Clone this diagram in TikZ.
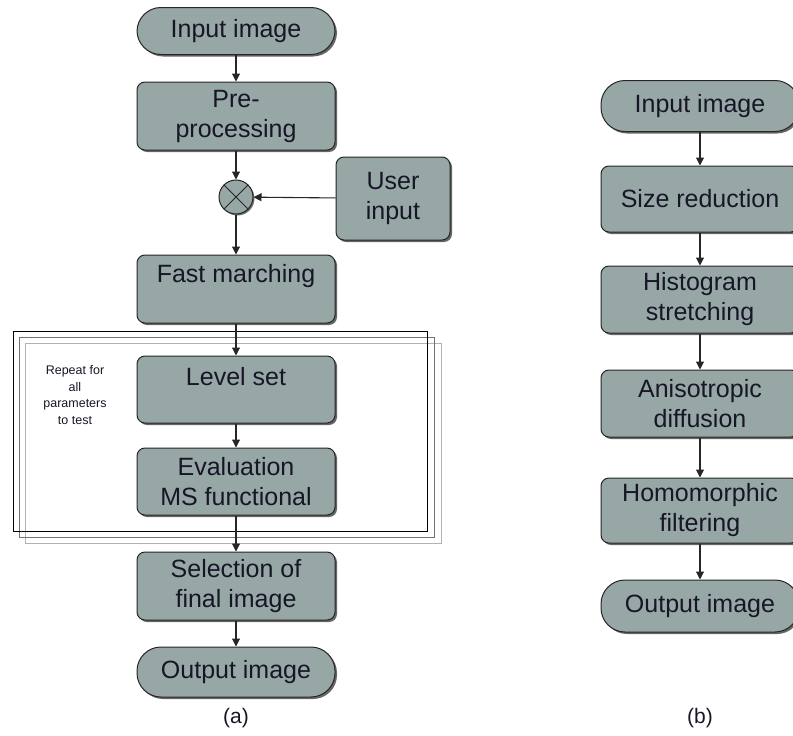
\documentclass[tikz,border=0pt]{standalone}
\usepackage{fontspec}
\setmainfont{Liberation Sans}
\usetikzlibrary{shadows,arrows.meta}
\definecolor{boxfill}{RGB}{151,167,166}
\definecolor{inkc}{RGB}{22,22,38}
\tikzset{
  stepbox/.style={draw=black!85, line width=1pt, fill=boxfill, rounded corners=8pt,
    minimum width=198pt, inner sep=0pt, text=inkc, align=center,
    font=\fontsize{25}{30}\selectfont,
    drop shadow={shadow xshift=2pt, shadow yshift=-2pt, opacity=0.75, fill=black!80}},
  termbox/.style={stepbox, rounded corners=24pt},
  boxtext/.style={text=inkc, align=center, inner sep=0pt, font=\fontsize{25}{30}\selectfont},
  flow/.style={draw=black!85, line width=1.1pt, -{Triangle[width=8pt,length=8pt]}},
  caption/.style={font=\fontsize{21}{24}\selectfont, text=inkc}
}
\begin{document}
\begin{tikzpicture}[x=1pt,y=-1pt]
\useasboundingbox (0,0) rectangle (793,736);
\clip (0,0) rectangle (793,736);

% repeat frame behind the loop body
\draw[black!30, line width=1pt] (25,343) rectangle (441,543);
\draw[black!55, line width=1pt] (19,337) rectangle (434,537);
\draw[black, line width=1pt] (13,331) rectangle (427,531);
\node[font=\fontsize{12.5}{16.5}\selectfont, align=center, text=inkc] (rep) at (75,395)
  {Repeat for\\all\\parameters\\to test};

% flow (a)
\node[termbox, minimum height=47pt] (ain) at (236,31) {Input image};
\node[stepbox, minimum height=68pt] (pre) at (236,116) {Pre-\\processing};
\node[circle, draw=black!85, line width=1pt, fill=boxfill, minimum size=34pt, inner sep=0pt,
  drop shadow={shadow xshift=1.5pt, shadow yshift=-1.5pt, opacity=0.7, fill=black!80}] (mix) at (236,197) {};
\draw[black!85, line width=1pt] (mix.45) -- (mix.225) (mix.135) -- (mix.315);
\node[stepbox, minimum width=114pt, minimum height=83pt] (user) at (393,198.5) {User\\input};
\node[stepbox, minimum height=68pt] (fast) at (236,289) {};
\node[boxtext] (fastt) at (236,276) {Fast marching};
\node[stepbox, minimum height=67pt] (lvl) at (236,389.5) {};
\node[boxtext] (lvlt) at (236,377) {Level set};
\node[stepbox, minimum height=67pt] (eval) at (236,481.5) {Evaluation\\MS functional};
\node[stepbox, minimum height=68pt] (sel) at (236,586) {Selection of\\final image};
\node[termbox, minimum height=50pt] (aout) at (236,672) {Output image};
\node[caption] (capa) at (236,718) {(a)};

\draw[flow] (ain) -- (pre);
\draw[flow] (pre) -- (mix);
\draw[flow] (user) -- (mix);
\draw[flow] (mix) -- (fast);
\draw[flow] (fast) -- (lvl);
\draw[flow] (lvl) -- (eval);
\draw[flow] (eval) -- (sel);
\draw[flow] (sel) -- (aout);

% flow (b)
\node[termbox, minimum height=51pt] (bin) at (700,106) {Input image};
\node[stepbox, minimum height=66pt] (size) at (700,199) {Size reduction};
\node[stepbox, minimum height=67pt] (hist) at (700,299.5) {Histogram\\stretching};
\node[stepbox, minimum height=67pt] (aniso) at (700,403.5) {Anisotropic\\diffusion};
\node[stepbox, minimum height=65pt] (homo) at (700,510.5) {Homomorphic\\filtering};
\node[termbox, minimum height=52pt] (bout) at (700,606) {Output image};
\node[caption] (capb) at (700,718) {(b)};

\draw[flow] (bin) -- (size);
\draw[flow] (size) -- (hist);
\draw[flow] (hist) -- (aniso);
\draw[flow] (aniso) -- (homo);
\draw[flow] (homo) -- (bout);
\end{tikzpicture}
\end{document}
